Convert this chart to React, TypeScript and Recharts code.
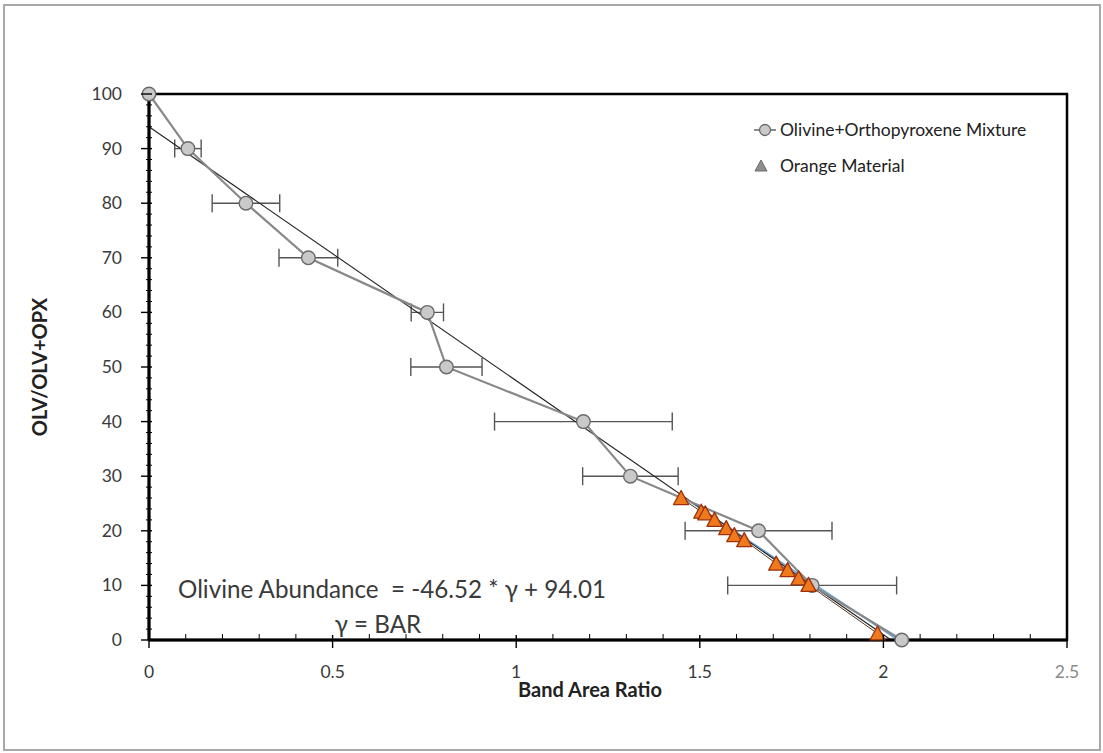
import React from "react";
import {
  ComposedChart,
  XAxis,
  YAxis,
  Scatter,
  ErrorBar,
  ReferenceLine,
  ReferenceArea,
  Legend,
  Customized,
} from "recharts";

// Olivine + orthopyroxene laboratory mixtures
const mixBAR = [0, 0.106, 0.264, 0.434, 0.758, 0.81, 1.183, 1.311, 1.66, 1.806, 2.05];
const mixOLV = [100, 90, 80, 70, 60, 50, 40, 30, 20, 10, 0];
const mixErr = [null, 0.036, 0.092, 0.08, 0.044, 0.097, 0.242, 0.13, 0.2, 0.23, null];

// Orange material samples
const orangeBAR = [1.449, 1.504, 1.515, 1.54, 1.572, 1.594, 1.621, 1.708, 1.739, 1.769, 1.796, 1.984];
const orangeOLV = [26, 23.5, 23.2, 22, 20.5, 19.2, 18.3, 14, 12.8, 11.3, 10.1, 1.2];

// Linear fit of the orange material
const orangeFitBAR = [1.47, 2.04];
const orangeFitOLV = [25.5, 0];

// Calibration: Olivine Abundance = slope * BAR + intercept
const fitSlope = -46.52;
const fitIntercept = 94.01;

// Axis ticks (majors are labelled, the rest are minor marks)
const xTicks = [0, 0.1, 0.2, 0.3, 0.4, 0.5, 0.6, 0.7, 0.8, 0.9, 1, 1.1, 1.2, 1.3, 1.4, 1.5, 1.6, 1.7, 1.8, 1.9, 2, 2.1, 2.2, 2.3, 2.4, 2.5];
const xMajor = [0, 0.5, 1, 1.5, 2, 2.5];
const yTicks = [0, 2, 4, 6, 8, 10, 12, 14, 16, 18, 20, 22, 24, 26, 28, 30, 32, 34, 36, 38, 40, 42, 44, 46, 48, 50, 52, 54, 56, 58, 60, 62, 64, 66, 68, 70, 72, 74, 76, 78, 80, 82, 84, 86, 88, 90, 92, 94, 96, 98, 100];
const yMajor = [0, 10, 20, 30, 40, 50, 60, 70, 80, 90, 100];

const mixData = mixBAR.map((x, i) => ({ x, y: mixOLV[i], ex: mixErr[i] }));
const orangeData = orangeBAR.map((x, i) => ({ x, y: orangeOLV[i] }));
const fitEnd = -fitIntercept / fitSlope;

const FONT = "Lato, 'Open Sans', sans-serif";
const TEXT = "#3a3a3a";

const XTick = (props: any) => {
  const { x, y, payload } = props;
  const v = payload.value;
  const major = xMajor.some((m) => Math.abs(m - v) < 1e-9);
  return (
    <g>
      {major ? (
        <line x1={x} x2={x} y1={y - 5} y2={y + 8} stroke="#000" strokeWidth={1.4} />
      ) : (
        <line x1={x} x2={x} y1={y - 6} y2={y} stroke="#000" strokeWidth={1} />
      )}
      {major && (
        <text x={x} y={y + 38} textAnchor="middle" fontSize={17.5} fontFamily={FONT} fill={v === 2.5 ? "#8a8a8a" : TEXT}>
          {String(v)}
        </text>
      )}
    </g>
  );
};

const YTick = (props: any) => {
  const { x, y, payload } = props;
  const v = payload.value;
  const major = yMajor.includes(v);
  return (
    <g>
      <line x1={major ? x - 8 : x - 3} x2={x + 3} y1={y} y2={y} stroke="#000" strokeWidth={major ? 1.4 : 1} />
      {major && (
        <text x={x - 27} y={y + 6} textAnchor="end" fontSize={17.5} fontFamily={FONT} fill={TEXT}>
          {String(v)}
        </text>
      )}
    </g>
  );
};

const CircleMark = (props: any) => {
  const { cx, cy } = props;
  if (cx == null || cy == null) return <g />;
  return <circle cx={cx} cy={cy} r={6.8} fill="#c9c9c9" stroke="#6a6a6a" strokeWidth={1.4} />;
};

const TriangleMark = (props: any) => {
  const { cx, cy } = props;
  if (cx == null || cy == null) return <g />;
  const h = 13;
  const w = 15;
  return (
    <polygon
      points={`${cx},${cy - h / 2 - 1} ${cx - w / 2},${cy + h / 2} ${cx + w / 2},${cy + h / 2}`}
      fill="#ef7a1c"
      stroke="#9e2f0c"
      strokeWidth={1.3}
      strokeLinejoin="round"
    />
  );
};

const LegendBox = () => (
  <div style={{ fontFamily: FONT, fontSize: 17.5, color: "#222", lineHeight: "36px" }}>
    <div style={{ display: "flex", alignItems: "center" }}>
      <svg width={30} height={20}>
        <line x1={4} x2={26} y1={10} y2={10} stroke="#8c8c8c" strokeWidth={2} />
        <circle cx={15} cy={10} r={5.5} fill="#c9c9c9" stroke="#6a6a6a" strokeWidth={1.3} />
      </svg>
      <span style={{ marginLeft: 0 }}>Olivine+Orthopyroxene Mixture</span>
    </div>
    <div style={{ display: "flex", alignItems: "center" }}>
      <svg width={30} height={20}>
        <polygon points="11,4 5,15 17,15" fill="#8e8e8e" stroke="#6a6a6a" strokeWidth={1} />
      </svg>
      <span style={{ marginLeft: 0 }}>Orange Material</span>
    </div>
  </div>
);

const Annotations = () => (
  <g fontFamily={FONT}>
    <text x={178} y={598} fontSize={24.2} fill={TEXT} style={{ whiteSpace: "pre" }}>
      {"Olivine Abundance  = -46.52 * \u03b3 + 94.01"}
    </text>
    <text x={378} y={633} fontSize={24.2} fill={TEXT} textAnchor="middle">
      {"\u03b3 = BAR"}
    </text>
    <text x={590} y={697} fontSize={20} fontWeight="bold" fill="#222" textAnchor="middle">
      Band Area Ratio
    </text>
    <text
      x={47}
      y={367}
      fontSize={20}
      fontWeight="bold"
      fill="#222"
      textAnchor="middle"
      transform="rotate(-90 47 367)"
    >
      OLV/OLV+OPX
    </text>
  </g>
);

export default function App() {
  return (
    <div style={{ position: "absolute", left: 0, top: 0, width: 1103, height: 753, background: "#fff" }}>
      <div
        style={{
          position: "absolute",
          left: 3,
          top: 4,
          width: 1094,
          height: 743,
          border: "2px solid #a8a8a8",
        }}
      />
      <div style={{ position: "absolute", left: 0, top: 0 }}>
        <ComposedChart width={1103} height={753} margin={{ top: 94, right: 36, bottom: 0, left: 0 }}>
          <XAxis
            type="number"
            dataKey="x"
            domain={[0, 2.5]}
            ticks={xTicks}
            interval={0}
            height={113}
            tickSize={0}
            tickMargin={0}
            tick={<XTick />}
            axisLine={{ stroke: "#000", strokeWidth: 3 }}
          />
          <YAxis
            type="number"
            dataKey="y"
            domain={[0, 100]}
            ticks={yTicks}
            interval={0}
            width={149}
            tickSize={0}
            tickMargin={0}
            tick={<YTick />}
            axisLine={{ stroke: "#000", strokeWidth: 3 }}
          />
          <ReferenceArea x1={0} x2={2.5} y1={0} y2={100} fill="none" stroke="#000" strokeWidth={2.5} />
          <ReferenceLine
            segment={[
              { x: orangeFitBAR[0], y: orangeFitOLV[0] },
              { x: orangeFitBAR[1], y: orangeFitOLV[1] },
            ]}
            stroke="#6aa6d8"
            strokeWidth={1.6}
            ifOverflow="visible"
          />
          <Scatter
            name="Olivine+Orthopyroxene Mixture"
            data={mixData}
            line={{ stroke: "#888888", strokeWidth: 2.2 }}
            lineType="joint"
            shape={<CircleMark />}
            isAnimationActive={false}
          >
            <ErrorBar dataKey="ex" direction="x" width={9} stroke="#555" strokeWidth={1.4} isAnimationActive={false} />
          </Scatter>
          <ReferenceLine
            segment={[
              { x: 0, y: fitIntercept },
              { x: fitEnd, y: 0 },
            ]}
            stroke="#222"
            strokeWidth={1.1}
            ifOverflow="visible"
          />
          <Scatter
            name="Orange Material"
            data={orangeData}
            line={{ stroke: "#5a3520", strokeWidth: 1 }}
            lineType="joint"
            shape={<TriangleMark />}
            isAnimationActive={false}
          />
          <Legend
            layout="horizontal"
            verticalAlign="middle"
            align="center"
            content={<LegendBox />}
            wrapperStyle={{ top: 112, left: 750, width: 330, height: 80 }}
          />
          <Customized component={<Annotations />} />
        </ComposedChart>
      </div>
    </div>
  );
}
